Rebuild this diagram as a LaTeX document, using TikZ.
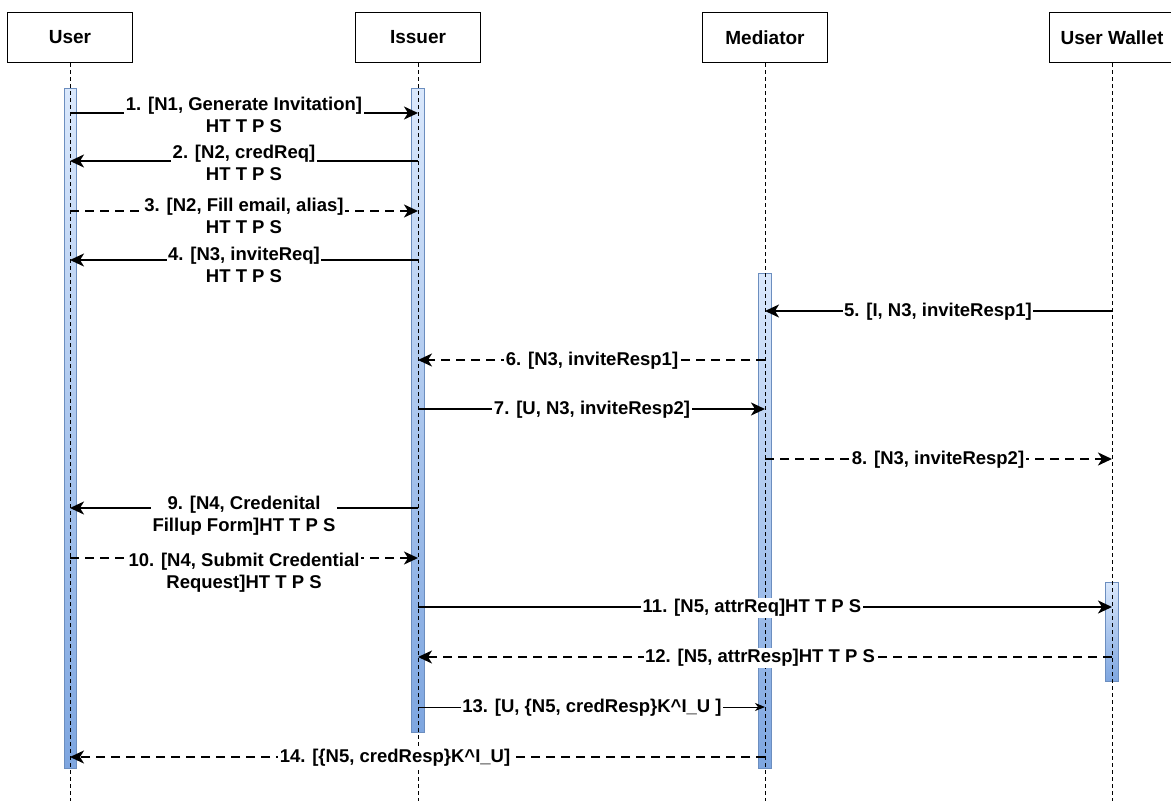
\documentclass[tikz,border=0pt]{standalone}
\usepackage{fontspec}
\setmainfont{Liberation Sans}
\usetikzlibrary{arrows.meta}
\definecolor{barTop}{HTML}{DAE8FC}
\definecolor{barBot}{HTML}{7EA6E0}
\definecolor{barLine}{HTML}{6C8EBF}
\tikzset{
  actor/.style={draw=black, line width=1pt, fill=white, minimum width=125pt,
    minimum height=50pt, inner sep=0pt, font=\fontsize{19}{23}\selectfont\bfseries},
  life/.style={line width=1pt, dash pattern=on 4pt off 3pt},
  actbar/.style={draw=barLine, line width=1pt, top color=barTop, bottom color=barBot,
    minimum width=12.5pt, inner sep=0pt},
  msg/.style={line width=2pt, -{Stealth[length=14pt,width=13pt,inset=4pt]}},
  reply/.style={msg, dash pattern=on 9pt off 6pt},
  thinmsg/.style={line width=1pt, -{Stealth[length=10pt,width=8pt,inset=3pt]}},
  lbl/.style={fill=white, inner sep=1.5pt, align=center,
    font=\fontsize{18.5}{22}\selectfont\bfseries},
}
\begin{document}
\begin{tikzpicture}[x=1pt,y=-1pt]
\useasboundingbox (0,0) rectangle (1171,801);

% participants
\node[actor] (u) at (70,37.5)   {User};
\node[actor] (i) at (418,37.5)  {Issuer};
\node[actor] (m) at (765,37.5)  {Mediator};
\node[actor] (w) at (1112,37.5) {User Wallet};

% activation bars
\node[actbar, minimum height=680pt] (ub) at (70.5,428) {};
\node[actbar, minimum height=644pt] (ib) at (418,410) {};
\node[actbar, minimum height=495pt] (mb) at (765,520.5) {};
\node[actbar, minimum height=99pt]  (wb) at (1112,631.5) {};

% lifelines
\coordinate (uend) at (70,801);
\coordinate (iend) at (418,801);
\coordinate (mend) at (765,801);
\coordinate (wend) at (1112,801);
\draw[life] (u.south) -- (uend);
\draw[life] (i.south) -- (iend);
\draw[life] (m.south) -- (mend);
\draw[life] (w.south) -- (wend);

% messages
\draw[msg]     (u |- 0,113) -- (i |- 0,113);
\draw[msg]     (i |- 0,161) -- (u |- 0,161);
\draw[reply]   (u |- 0,211) -- (i |- 0,211);
\draw[msg]     (i |- 0,260) -- (u |- 0,260);
\draw[msg]     (w |- 0,311) -- (m |- 0,311);
\draw[reply]   (m |- 0,360) -- (i |- 0,360);
\draw[msg]     (i |- 0,409) -- (m |- 0,409);
\draw[reply]   (m |- 0,459) -- (w |- 0,459);
\draw[msg]     (i |- 0,508) -- (u |- 0,508);
\draw[reply]   (u |- 0,558) -- (i |- 0,558);
\draw[msg]     (i |- 0,607) -- (w |- 0,607);
\draw[reply]   (w |- 0,657) -- (i |- 0,657);
\draw[thinmsg] (i |- 0,707) -- (m |- 0,707);
\draw[reply]   (m |- 0,757) -- (u |- 0,757);

% message labels
\node[lbl] (l1)  at (244,115) {1. [N1, Generate Invitation]\\HT T P S};
\node[lbl] (l2)  at (244,163) {2. [N2, credReq]\\HT T P S};
\node[lbl] (l3)  at (244,216) {3. [N2, Fill email, alias]\\HT T P S};
\node[lbl] (l4)  at (244,265) {4. [N3, inviteReq]\\HT T P S};
\node[lbl] (l5)  at (938,312) {5. [I, N3, inviteResp1]};
\node[lbl] (l6)  at (592,361) {6. [N3, inviteResp1]};
\node[lbl] (l7)  at (592,410) {7. [U, N3, inviteResp2]};
\node[lbl] (l8)  at (938,460) {8. [N3, inviteResp2]};
\node[lbl] (l9)  at (244,516) {9. [N4, Credenital\\Fillup Form]HT T P S};
\node[lbl] (l10) at (244,573) {10. [N4, Submit Credential\\Request]HT T P S};
\node[lbl] (l11) at (752,608) {11. [N5, attrReq]HT T P S};
\node[lbl] (l12) at (760,658) {12. [N5, attrResp]HT T P S};
\node[lbl] (l13) at (592,708) {13. [U, \{N5, credResp\}K\^{}I\_U ]};
\node[lbl] (l14) at (395,758) {14. [\{N5, credResp\}K\^{}I\_U]};
\end{tikzpicture}
\end{document}
